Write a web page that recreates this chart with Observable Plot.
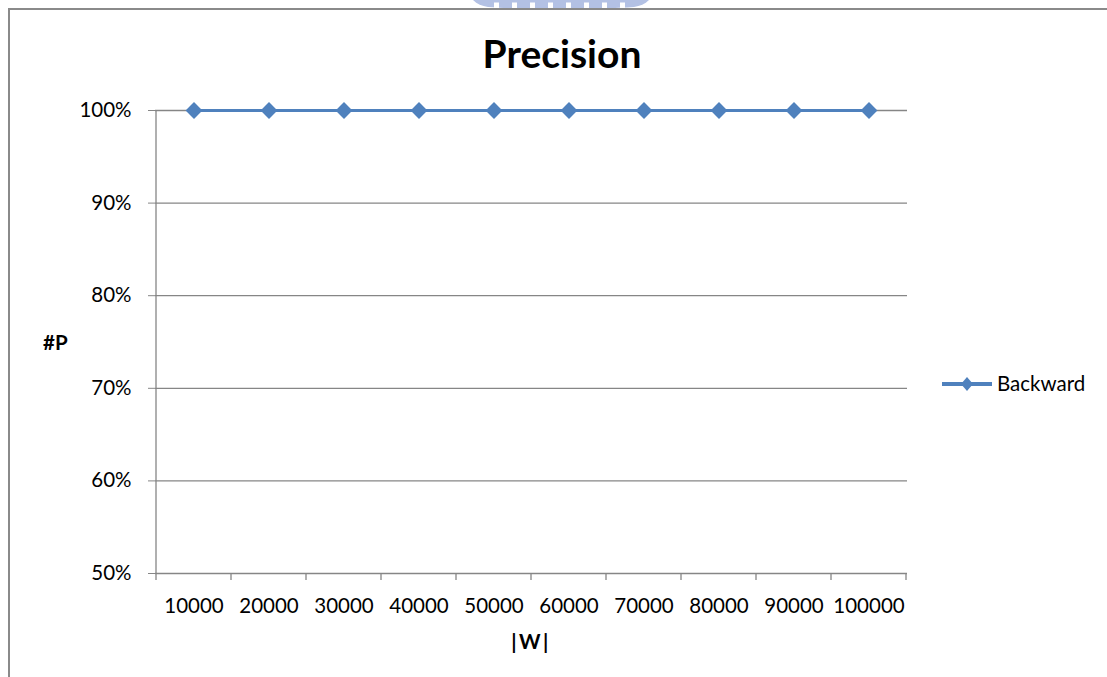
<!DOCTYPE html>
<html>
<head>
<meta charset="utf-8">
<script src="https://cdn.jsdelivr.net/npm/d3@7"></script>
<script src="https://cdn.jsdelivr.net/npm/@observablehq/plot@0.6"></script>
<style>
  html, body { margin: 0; padding: 0; background: #fff; }
  #wrap { position: relative; width: 1107px; height: 677px; overflow: hidden; font-family: Lato, "Open Sans", sans-serif; }
  #wrap > svg { position: absolute; left: 0; top: 0; }
</style>
</head>
<body>
<div id="wrap"></div>
<script>
// Window size |W| and the precision of the Backward method
const windowSizes = ["10000", "20000", "30000", "40000", "50000", "60000", "70000", "80000", "90000", "100000"];
const backward = [1.0, 1.0, 1.0, 1.0, 1.0, 1.0, 1.0, 1.0, 1.0, 1.0];
const yTicks = [0.5, 0.6, 0.7, 0.8, 0.9, 1.0];
const seriesName = "Backward";
const titleText = "Precision";
const xTitle = "|W|";
const yTitle = "#P";

const blue = "#4F81BD";
const grey = "#868686";
const labelSize = 20.5;
const rows = windowSizes.map((w, i) => ({w, p: backward[i]}));

// Axis line on the left and category-boundary ticks under the x axis
function categoryFrame(index, scales) {
  const x = scales.x, y = scales.y;
  const bw = typeof x.bandwidth === "function" ? x.bandwidth() : x.bandwidth;
  const g = d3.create("svg:g").attr("stroke", grey).attr("stroke-width", 1.3);
  const x0 = x(windowSizes[0]);
  const yBottom = y(yTicks[0]);
  g.append("line").attr("x1", x0).attr("x2", x0).attr("y1", y(yTicks[yTicks.length - 1])).attr("y2", yBottom);
  const edges = windowSizes.map(d => x(d)).concat([x(windowSizes[windowSizes.length - 1]) + bw]);
  for (const e of edges) {
    g.append("line").attr("x1", e).attr("x2", e).attr("y1", yBottom).attr("y2", yBottom + 7);
  }
  return g.node();
}

const chart = Plot.plot({
  width: 1107,
  height: 677,
  marginLeft: 155,
  marginRight: 200,
  marginTop: 110,
  marginBottom: 104,
  style: {fontFamily: "Lato, 'Open Sans', sans-serif", fontSize: labelSize + "px", color: "#000", background: "transparent"},
  x: {type: "band", domain: windowSizes, padding: 0, label: null},
  y: {domain: [0.5, 1.0], label: null},
  marks: [
    Plot.ruleY(yTicks, {stroke: grey, strokeWidth: 1.3}),
    Plot.axisY({ticks: yTicks, tickFormat: d => Math.round(d * 100) + "%", tickSize: 7, tickPadding: 17, stroke: grey, fill: "#000", label: null, fontSize: labelSize}),
    Plot.axisX({tickSize: 0, tickPadding: 25, fill: "#000", label: null, fontSize: labelSize}),
    categoryFrame,
    Plot.line(rows, {x: "w", y: "p", stroke: blue, strokeWidth: 3}),
    Plot.dot(rows, {x: "w", y: "p", symbol: "diamond2", r: 7.6, fill: blue, stroke: "none"})
  ]
});
document.getElementById("wrap").appendChild(chart);

// Title, axis titles, legend and chart border
const W = 1107, H = 677;
const over = d3.create("svg").attr("width", W).attr("height", H)
  .style("font-family", "Lato, 'Open Sans', sans-serif");

// faint watermark at the top edge
const wm = over.append("g");
wm.append("path")
  .attr("d", "M473,0 L649,0 C645,4 640,6 634,7 C600,9.5 520,9.5 488,7 C482,6 477,4 473,0 Z")
  .attr("fill", "#b3c1e4");
for (const sx of [494, 512, 530, 548, 566, 584, 602, 620]) {
  wm.append("rect").attr("x", sx).attr("y", 2.5).attr("width", 5).attr("height", 8).attr("fill", "#fff");
}

// chart border
over.append("path").attr("d", "M9,677 L9,9 L1107,9").attr("fill", "none").attr("stroke", "#8a8a8a").attr("stroke-width", 2);

over.append("text").attr("x", 562).attr("y", 68).attr("text-anchor", "middle")
  .attr("font-size", 39).attr("font-weight", "bold").text(titleText);
over.append("text").attr("x", 43).attr("y", 350).attr("font-size", labelSize).attr("font-weight", "bold").text(yTitle);
over.append("text").attr("x", 531).attr("y", 649).attr("text-anchor", "middle")
  .attr("font-size", labelSize).attr("font-weight", "bold").attr("letter-spacing", 2.5).text(xTitle);

const lg = over.append("g");
lg.append("line").attr("x1", 942).attr("x2", 992).attr("y1", 384).attr("y2", 384).attr("stroke", blue).attr("stroke-width", 4);
lg.append("path").attr("d", "M967,377 L973,384 L967,391 L961,384 Z").attr("fill", blue);
lg.append("text").attr("x", 997).attr("y", 391).attr("font-size", labelSize).text(seriesName);

document.getElementById("wrap").appendChild(over.node());
</script>
</body>
</html>
